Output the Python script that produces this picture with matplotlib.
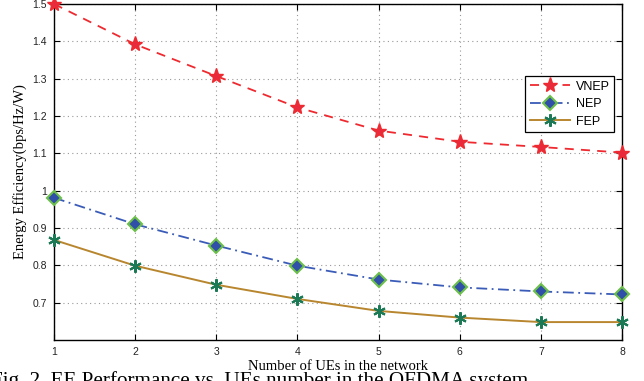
import numpy as np
import matplotlib
matplotlib.use("Agg")
import matplotlib.pyplot as plt

# values
num_ues = [1, 2, 3, 4, 5, 6, 7, 8]
vnep = [1.50, 1.392, 1.307, 1.223, 1.161, 1.131, 1.117, 1.102]
nep = [0.981, 0.910, 0.853, 0.799, 0.762, 0.741, 0.730, 0.722]
fep = [0.868, 0.799, 0.748, 0.710, 0.678, 0.660, 0.648, 0.648]
y_ticks = [0.7, 0.8, 0.9, 1.0, 1.1, 1.2, 1.3, 1.4, 1.5]
y_ticklabels = ["0.7", "0.8", "0.9", "1", "1.1", "1.2", "1.3", "1.4", "1.5"]

fig = plt.figure(figsize=(6.44, 3.81), dpi=100)
ax = fig.add_axes([0.0839, 0.1076, 0.8819, 0.8819])

asterisk = (6, 2, 0)

ax.plot(num_ues, vnep, linestyle=(0, (5, 4)), color="#ee2a30", lw=1.3,
        marker="*", markersize=11, markerfacecolor="#e82a3c",
        markeredgecolor="#ee2a30", label="VNEP", clip_on=False, zorder=5)
ax.plot(num_ues, nep, linestyle=(0, (6, 2.5, 1, 2.5)), color="#3a5cb8", lw=1.3,
        marker="D", markersize=7, markerfacecolor="#2f4fa8",
        markeredgecolor="#6cc04a", markeredgewidth=1.5, label="NEP",
        clip_on=False, zorder=5)
ax.plot(num_ues, fep, linestyle="-", color="#b8862e", lw=1.4,
        marker=asterisk, markersize=9, markerfacecolor="#1b7a55",
        markeredgecolor="#1b7a55", markeredgewidth=1.5, label="FEP",
        clip_on=False, zorder=5)

ax.set_xlim(1, 8)
ax.set_ylim(0.6, 1.5)
ax.set_xticks(num_ues)
ax.set_yticks(y_ticks)
ax.set_yticklabels(y_ticklabels)
ax.tick_params(direction="in", top=True, right=True, labelsize=7.5,
               length=4, width=0.8, pad=5)
for lab in ax.get_xticklabels() + ax.get_yticklabels():
    lab.set_family("Liberation Sans")
    lab.set_color("#222222")
ax.grid(True, linestyle=(0, (1, 3)), color="#999999", lw=0.8)
for sp in ax.spines.values():
    sp.set_linewidth(1.0)

ax.set_xlabel("Number of UEs in the network", family="Liberation Serif",
              fontsize=10.5, labelpad=2)
ax.set_ylabel("Energy Efficiency(bps/Hz/W)", family="Liberation Serif",
              fontsize=10.5, labelpad=4)

leg = ax.legend(loc="upper left", bbox_to_anchor=(0.83, 0.785),
                prop={"family": "Liberation Sans", "size": 9},
                fancybox=False, edgecolor="black", framealpha=1,
                borderpad=0.35, handlelength=3.2, labelspacing=0.45,
                handletextpad=0.5, borderaxespad=0)
leg.get_frame().set_linewidth(0.9)

# figure caption, partly cut off at the bottom edge
fig.text(-0.014, 0.027, "Fig. 2. EE Performance vs. UEs number in the OFDMA system",
         family="Liberation Serif", fontsize=15.2, va="top", ha="left")

fig.savefig("out.png", dpi=100)
